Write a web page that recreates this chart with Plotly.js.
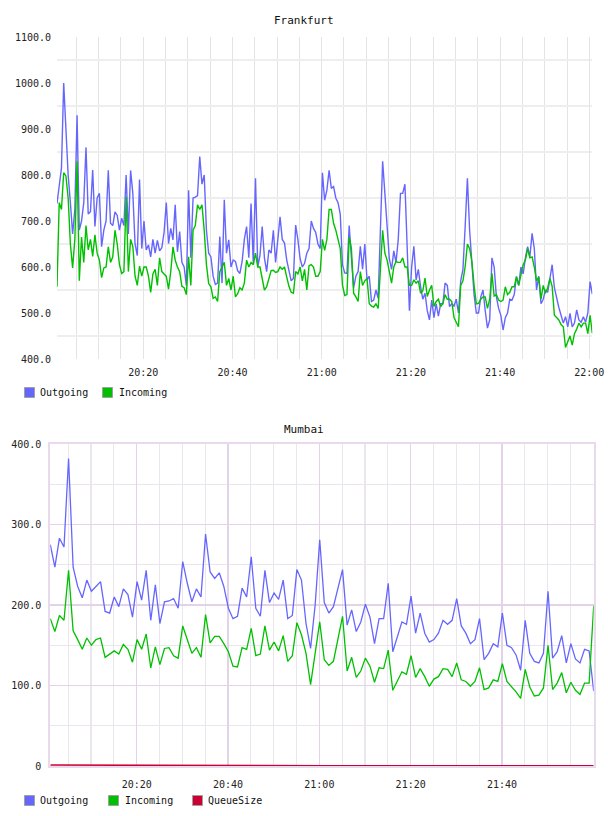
<!DOCTYPE html>
<html>
<head>
<meta charset="utf-8">
<script src="https://cdn.plot.ly/plotly-3.0.1.min.js"></script>
<style>
  html, body { margin: 0; padding: 0; background: #ffffff; }
  #chart { width: 608px; height: 816px; }
</style>
</head>
<body>
<div id="chart"></div>
<script>
// ---- Frankfurt: messages per sample, one sample every 30 s from 20:00:40 ----
const frankfurtStart = '20:00:40';
const frankfurtStepSec = 30;
const frankfurtOutgoing = [
  738, 780, 815, 1000, 890, 800, 740, 672, 725, 930,
  680, 700, 740, 860, 715, 720, 811, 688, 750, 760,
  644, 680, 700, 810, 695, 690, 720, 712, 680, 706,
  690, 800, 672, 810, 760, 650, 625, 790, 640, 700,
  637, 648, 622, 660, 630, 658, 635, 642, 675, 740,
  651, 684, 659, 735, 633, 677, 610, 600, 560, 767,
  620, 750, 752, 755, 840, 780, 800, 680, 630, 622,
  580, 562, 565, 666, 565, 746, 630, 659, 600, 615,
  612, 592, 586, 612, 660, 688, 620, 738, 608, 793,
  600, 625, 688, 620, 590, 637, 630, 680, 610, 665,
  709, 660, 652, 615, 593, 570, 575, 691, 660, 618,
  600, 608, 630, 640, 700, 684, 675, 650, 640, 805,
  745, 767, 810, 771, 775, 750, 740, 715, 605, 587,
  586, 690, 620, 555, 580, 590, 645, 595, 650, 572,
  580, 525, 528, 550, 532, 690, 830, 760, 680, 618,
  595, 635, 610, 660, 760, 760, 780, 636, 505, 600,
  645, 572, 595, 558, 530, 543, 505, 485, 528, 490,
  520, 493, 520, 520, 565, 560, 514, 520, 515, 530,
  500, 570, 595, 688, 793, 680, 615, 540, 500, 500,
  535, 550, 505, 467, 485, 620, 600, 535, 510, 495,
  463, 490, 500, 530, 528, 540, 579, 560, 600, 585,
  620, 644, 622, 673, 640, 550, 580, 520, 530, 550,
  545, 580, 605, 555, 530, 512, 495, 478, 492, 470,
  499, 470, 478, 507, 485, 480, 492, 480, 500, 568,
  541
];
const frankfurtIncoming = [
  557, 740, 725, 805, 798, 750, 650, 598, 660, 830,
  570, 665, 610, 690, 637, 660, 623, 670, 630, 615,
  577, 598, 600, 644, 610, 622, 680, 650, 605, 586,
  590, 753, 590, 660, 645, 580, 560, 602, 580, 600,
  600, 580, 545, 585, 595, 560, 620, 590, 585, 580,
  552, 590, 644, 615, 600, 590, 558, 555, 540, 622,
  560, 680, 690, 735, 725, 735, 680, 605, 564, 557,
  532, 535, 525, 590, 600, 610, 560, 575, 550, 580,
  535, 542, 555, 550, 565, 615, 600, 610, 605, 630,
  600, 600, 575, 550, 557, 575, 592, 593, 588, 590,
  600, 595, 600, 578, 558, 545, 543, 590, 585, 600,
  570, 595, 550, 603, 605, 600, 580, 580, 590, 660,
  636, 660, 725, 725, 695, 680, 660, 640, 560, 538,
  540, 665, 640, 543, 535, 525, 590, 560, 570, 575,
  520, 515, 513, 520, 510, 600, 680, 630, 615, 590,
  565, 600, 612, 610, 610, 620, 600, 600, 560, 560,
  572, 565, 570, 543, 548, 576, 536, 550, 560, 514,
  525, 530, 514, 520, 540, 530, 530, 525, 490, 480,
  470, 560, 570, 601, 650, 640, 612, 560, 520, 521,
  530, 535, 535, 510, 530, 586, 537, 540, 528, 525,
  528, 557, 540, 545, 557, 557, 579, 560, 585, 605,
  615, 640, 620, 622, 600, 570, 578, 530, 560, 543,
  555, 575, 558, 495, 490, 485, 475, 470, 425, 440,
  450, 430, 455, 465, 478, 470, 478, 478, 455, 495,
  456
];

// ---- Mumbai: one sample per minute from 20:01:05 ----
const mumbaiStart = '20:01:05';
const mumbaiStepSec = 60;
const mumbaiOutgoing = [
  275, 247, 283, 272, 382, 247, 223, 209, 231, 217,
  223, 229, 192, 190, 210, 198, 220, 213, 185, 229,
  206, 243, 181, 225, 177, 204, 205, 208, 196, 254,
  227, 204, 220, 210, 288, 241, 233, 240, 223, 196,
  183, 186, 221, 210, 260, 196, 186, 243, 203, 215,
  207, 231, 183, 187, 244, 231, 177, 146, 200, 281,
  203, 190, 198, 221, 244, 175, 194, 167, 179, 201,
  185, 152, 183, 183, 227, 142, 161, 179, 176, 211,
  165, 190, 165, 154, 157, 165, 181, 176, 181, 208,
  174, 165, 152, 157, 183, 132, 140, 152, 148, 190,
  150, 147, 138, 119, 181, 140, 130, 128, 140, 217,
  134, 142, 162, 128, 152, 133, 128, 145, 143, 93
];
const mumbaiIncoming = [
  183, 167, 187, 181, 243, 168, 157, 145, 159, 150,
  157, 159, 135, 139, 143, 139, 151, 145, 129, 157,
  145, 164, 122, 148, 126, 146, 147, 137, 134, 174,
  157, 140, 147, 135, 188, 153, 161, 161, 152, 142,
  124, 123, 147, 145, 171, 137, 139, 174, 144, 154,
  143, 162, 130, 137, 178, 163, 140, 101, 140, 179,
  132, 125, 130, 157, 186, 118, 135, 110, 118, 134,
  124, 104, 122, 121, 144, 94, 106, 117, 114, 137,
  110, 121, 111, 99, 108, 111, 121, 120, 111, 128,
  107, 105, 99, 105, 122, 95, 97, 107, 105, 127,
  105, 99, 92, 84, 120, 98, 87, 88, 97, 150,
  95, 103, 116, 91, 104, 94, 89, 103, 103, 199
];
const mumbaiQueueSize = [
  1.2, 1.2, 1.2, 1.1, 1.1, 1.1, 1.1, 1.0, 1.0, 1.0,
  1.0, 1.0, 0.9, 0.9, 0.9, 0.9, 0.9, 0.8, 0.8, 0.8,
  0.8, 0.8, 0.7, 0.7, 0.7, 0.7, 0.7, 0.7, 0.6, 0.6,
  0.6, 0.6, 0.6, 0.6, 0.5, 0.5, 0.5, 0.5, 0.5, 0.5,
  0.5, 0.4, 0.4, 0.4, 0.4, 0.4, 0.4, 0.4, 0.4, 0.3,
  0.3, 0.3, 0.3, 0.3, 0.3, 0.3, 0.3, 0.3, 0.3, 0.3,
  0.3, 0.3, 0.2, 0.2, 0.2, 0.2, 0.2, 0.2, 0.2, 0.2,
  0.2, 0.2, 0.2, 0.2, 0.2, 0.2, 0.2, 0.2, 0.2, 0.2,
  0.2, 0.2, 0.2, 0.2, 0.2, 0.2, 0.2, 0.2, 0.2, 0.2,
  0.2, 0.2, 0.2, 0.2, 0.2, 0.2, 0.2, 0.2, 0.2, 0.2,
  0.2, 0.2, 0.2, 0.2, 0.2, 0.2, 0.2, 0.2, 0.2, 0.2,
  0.2, 0.2, 0.2, 0.2, 0.2, 0.2, 0.2, 0.2, 0.2, 0.2
];

// axis labels
const frankfurtYTicks = [400, 500, 600, 700, 800, 900, 1000, 1100];
const mumbaiYTicks = [0, 100, 200, 300, 400];
const mumbaiYTickText = ['0', '100.0', '200.0', '300.0', '400.0'];
const mumbaiXTicks = ['20:20', '20:40', '21:00', '21:20', '21:40'];

// ---- helpers ----
const DAY = '2024-03-14';
const pad = n => String(n).padStart(2, '0');
function toSec(hms) {
  const p = hms.split(':').map(Number);
  return p[0] * 3600 + p[1] * 60 + (p[2] || 0);
}
function stamp(sec) {
  const h = Math.floor(sec / 3600), m = Math.floor((sec % 3600) / 60), s = sec % 60;
  return DAY + ' ' + pad(h) + ':' + pad(m) + ':' + pad(s);
}
function timeAxis(start, stepSec, n) {
  const t0 = toSec(start);
  return Array.from({ length: n }, (_, i) => stamp(t0 + i * stepSec));
}

const fTimes = timeAxis(frankfurtStart, frankfurtStepSec, frankfurtOutgoing.length);
const mTimes = timeAxis(mumbaiStart, mumbaiStepSec, mumbaiOutgoing.length);

const W = 608, H = 816;
const px = x => x / W;
const py = y => 1 - y / H;

const BLUE = '#6666ff', GREEN = '#00c000', RED = '#cc0033';
const MONO = 'DejaVu Sans Mono, monospace';

const traces = [
  { x: fTimes, y: frankfurtOutgoing, name: 'Outgoing', type: 'scatter', mode: 'lines',
    line: { color: BLUE, width: 1.4 }, xaxis: 'x', yaxis: 'y', hoverinfo: 'skip' },
  { x: fTimes, y: frankfurtIncoming, name: 'Incoming', type: 'scatter', mode: 'lines',
    line: { color: GREEN, width: 1.4 }, xaxis: 'x', yaxis: 'y', hoverinfo: 'skip' },
  { x: mTimes, y: mumbaiOutgoing, name: 'Outgoing', type: 'scatter', mode: 'lines',
    line: { color: BLUE, width: 1.3 }, xaxis: 'x2', yaxis: 'y2', hoverinfo: 'skip' },
  { x: mTimes, y: mumbaiIncoming, name: 'Incoming', type: 'scatter', mode: 'lines',
    line: { color: GREEN, width: 1.3 }, xaxis: 'x2', yaxis: 'y2', hoverinfo: 'skip' },
  { x: mTimes, y: mumbaiQueueSize, name: 'QueueSize', type: 'scatter', mode: 'lines',
    line: { color: RED, width: 1.6 }, xaxis: 'x2', yaxis: 'y2', hoverinfo: 'skip' }
];

const tickFont = { family: MONO, size: 10, color: '#222222' };
const dayStart = DAY + ' 00:00:00';

// custom legend rows: coloured square with grey edge, then the series name
const shapes = [];
const annotations = [];
function legendRow(items, yCenter) {
  items.forEach(it => {
    shapes.push({ type: 'rect', xref: 'paper', yref: 'paper',
      x0: px(it.box), x1: px(it.box + 10), y0: py(yCenter + 5), y1: py(yCenter - 5),
      fillcolor: it.color, line: { color: '#a0a0a0', width: 1 } });
    annotations.push({ xref: 'paper', yref: 'paper', x: px(it.text - 1), y: py(yCenter),
      xanchor: 'left', yanchor: 'middle', showarrow: false, text: it.label,
      font: { family: MONO, size: 10, color: '#111111' } });
  });
}
legendRow([
  { box: 24.5, text: 38.5, color: BLUE, label: 'Outgoing' },
  { box: 102.5, text: 118, color: GREEN, label: 'Incoming' }
], 392.5);
legendRow([
  { box: 24.5, text: 38.5, color: BLUE, label: 'Outgoing' },
  { box: 108.5, text: 123.5, color: GREEN, label: 'Incoming' },
  { box: 192.5, text: 206.5, color: RED, label: 'QueueSize' }
], 800.5);

// chart titles
annotations.push({ xref: 'paper', yref: 'paper', x: 0.5, y: py(20), xanchor: 'center',
  yanchor: 'middle', showarrow: false, text: 'Frankfurt',
  font: { family: MONO, size: 11, color: '#111111' } });
annotations.push({ xref: 'paper', yref: 'paper', x: 0.5, y: py(429), xanchor: 'center',
  yanchor: 'middle', showarrow: false, text: 'Mumbai',
  font: { family: MONO, size: 11, color: '#111111' } });

const PINK_MAJOR = '#e4d2e8';
const PINK_MINOR = '#ebe6ed';
const PINK_FRAME = '#e9d9ed';

const layout = {
  width: W, height: H,
  margin: { l: 0, r: 0, t: 0, b: 0 },
  paper_bgcolor: '#ffffff', plot_bgcolor: '#ffffff',
  showlegend: false,
  font: { family: MONO, size: 10, color: '#222222' },
  // Frankfurt
  xaxis: {
    type: 'date', domain: [px(57), px(592.3)],
    range: [fTimes[0], fTimes[fTimes.length - 1]],
    tick0: dayStart, dtick: 20 * 60 * 1000, tickformat: '%H:%M',
    ticks: '', showline: false, zeroline: false,
    showgrid: true, gridcolor: '#e4e4e4', gridwidth: 1,
    minor: { tick0: dayStart, dtick: 5 * 60 * 1000, showgrid: true, gridcolor: '#e4e4e4', gridwidth: 1, ticks: '' },
    tickfont: tickFont, ticklabelstandoff: 6, fixedrange: true
  },
  yaxis: {
    domain: [py(359), py(37)], range: [400, 1100],
    tickmode: 'array', tickvals: frankfurtYTicks, tickformat: '.1f',
    ticks: '', showline: false, zeroline: false, showgrid: false,
    minor: { tick0: 450, dtick: 100, showgrid: true, gridcolor: '#eeeeee', gridwidth: 2, ticks: '' },
    tickfont: tickFont, ticklabelstandoff: 5, fixedrange: true
  },
  // Mumbai
  xaxis2: {
    type: 'date', domain: [px(50.3), px(593.7)], anchor: 'y2',
    range: [mTimes[0], mTimes[mTimes.length - 1]],
    tickmode: 'array', tickvals: mumbaiXTicks.map(t => DAY + ' ' + t + ':00'),
    ticktext: mumbaiXTicks,
    ticks: '', zeroline: false,
    showline: true, mirror: true, linecolor: PINK_FRAME, linewidth: 2,
    showgrid: true, gridcolor: PINK_MAJOR, gridwidth: 1.3,
    minor: { tick0: dayStart, dtick: 5 * 60 * 1000, showgrid: true, gridcolor: PINK_MINOR, gridwidth: 1.2, ticks: '' },
    tickfont: tickFont, ticklabelstandoff: 8, fixedrange: true
  },
  yaxis2: {
    domain: [py(766), py(444)], anchor: 'x2', range: [0, 400],
    tickmode: 'array', tickvals: mumbaiYTicks, ticktext: mumbaiYTickText,
    ticks: '', zeroline: false,
    showline: true, mirror: true, linecolor: PINK_FRAME, linewidth: 2,
    showgrid: true, gridcolor: PINK_MAJOR, gridwidth: 1.3,
    minor: { tick0: 50, dtick: 100, showgrid: true, gridcolor: PINK_MINOR, gridwidth: 1.2, ticks: '' },
    tickfont: tickFont, ticklabelstandoff: 5, fixedrange: true
  },
  shapes: shapes,
  annotations: annotations
};

Plotly.newPlot('chart', traces, layout, { staticPlot: true, displayModeBar: false });
</script>
</body>
</html>
